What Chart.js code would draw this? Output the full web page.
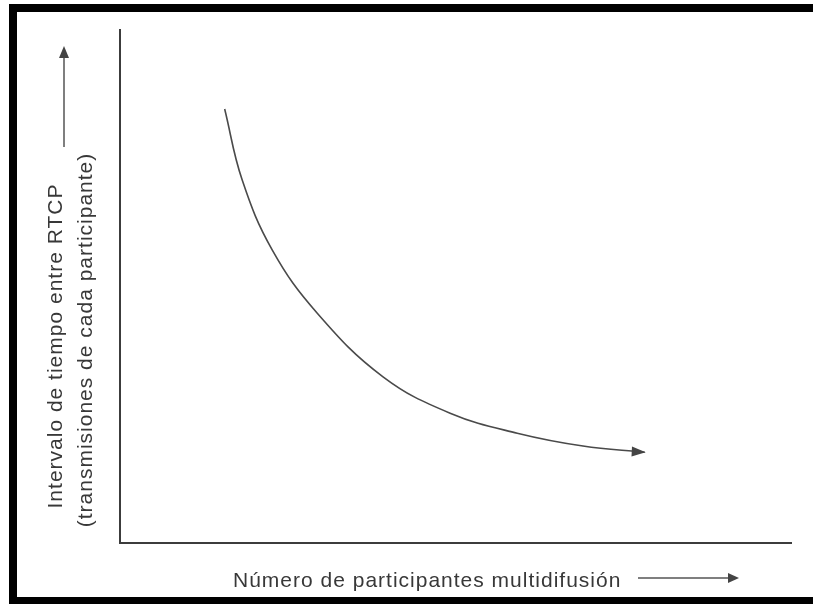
<!DOCTYPE html>
<html>
<head>
<meta charset="utf-8">
<script src="https://cdn.jsdelivr.net/npm/chart.js@4"></script>
<style>
  html, body { margin: 0; padding: 0; background: #fff; }
  canvas { display: block; }
</style>
</head>
<body>
<canvas id="myChart" width="813" height="604"></canvas>
<script>
// curve (arbitrary units, 0..100 on both axes)
let xValues = [15.6, 18.2, 22.7, 29.4, 39.2, 49.2, 59.2, 69.0, 78.2];
let yValues = [84.6, 70.8, 57.1, 44.8, 32.4, 25.3, 21.4, 18.9, 17.7];

let xTitle = 'Número de participantes multidifusión';
let yTitle = ['Intervalo de tiempo entre RTCP', '(transmisiones de cada participante)'];

let ink = '#383838';
let font = '21px "Liberation Sans", Arial, sans-serif';

function arrowHead(ctx, x, y, angle, len, half) {
  ctx.save();
  ctx.translate(x, y);
  ctx.rotate(angle);
  ctx.beginPath();
  ctx.moveTo(0, 0);
  ctx.lineTo(-len, -half);
  ctx.lineTo(-len, half);
  ctx.closePath();
  ctx.fill();
  ctx.restore();
}

// frame, titles and arrows
let decor = {
  id: 'decor',
  afterDraw(chart) {
    let ctx = chart.ctx;
    let meta = chart.getDatasetMeta(0).data;
    ctx.save();

    // black frame (left, top, bottom)
    ctx.fillStyle = '#000';
    ctx.fillRect(9, 4, 8, 600);
    ctx.fillRect(9, 4, 804, 8);
    ctx.fillRect(9, 597, 804, 7);

    // arrowhead at the end of the curve
    let a = meta[meta.length - 2], b = meta[meta.length - 1];
    ctx.fillStyle = '#444';
    arrowHead(ctx, b.x + 1, b.y, Math.atan2(b.y - a.y, b.x - a.x) - 0.05, 14, 5);

    // titles
    ctx.fillStyle = ink;
    ctx.font = font;
    ctx.letterSpacing = '1px';
    ctx.textBaseline = 'alphabetic';
    ctx.textAlign = 'left';
    ctx.fillText(xTitle, 233, 587);

    ctx.textAlign = 'center';
    let ys = [[62, 346], [92, 340]];
    yTitle.forEach((t, i) => {
      ctx.save();
      ctx.translate(ys[i][0], ys[i][1]);
      ctx.rotate(-Math.PI / 2);
      ctx.fillText(t, 0, 0);
      ctx.restore();
    });

    // title arrows
    ctx.strokeStyle = '#555';
    ctx.fillStyle = '#444';
    ctx.lineWidth = 1.5;
    ctx.beginPath();
    ctx.moveTo(638, 578);
    ctx.lineTo(730, 578);
    ctx.moveTo(64, 147);
    ctx.lineTo(64, 56);
    ctx.stroke();
    arrowHead(ctx, 739, 578, 0, 11, 5);
    arrowHead(ctx, 64, 46, -Math.PI / 2, 12, 5);

    ctx.restore();
  }
};

let myChart = document.getElementById('myChart').getContext('2d');
let lineChart = new Chart(myChart, {
  type: 'line',
  data: {
    datasets: [{
      data: xValues.map((x, i) => ({ x: x, y: yValues[i] })),
      borderColor: '#4a4a4a',
      borderWidth: 1.6,
      pointRadius: 0,
      tension: 0.4,
      fill: false
    }]
  },
  options: {
    responsive: false,
    animation: false,
    layout: { padding: { left: 120, top: 30, right: 22, bottom: 61 } },
    plugins: { legend: { display: false }, tooltip: { enabled: false } },
    scales: {
      x: {
        type: 'linear', min: 0, max: 100,
        grid: { display: false },
        ticks: { display: false },
        border: { display: true, color: '#3c3c3c', width: 2 },
        afterFit: s => { s.height = 0; }
      },
      y: {
        min: 0, max: 100,
        grid: { display: false },
        ticks: { display: false },
        border: { display: true, color: '#3c3c3c', width: 2 },
        afterFit: s => { s.width = 0; }
      }
    }
  },
  plugins: [decor]
});
</script>
</body>
</html>
